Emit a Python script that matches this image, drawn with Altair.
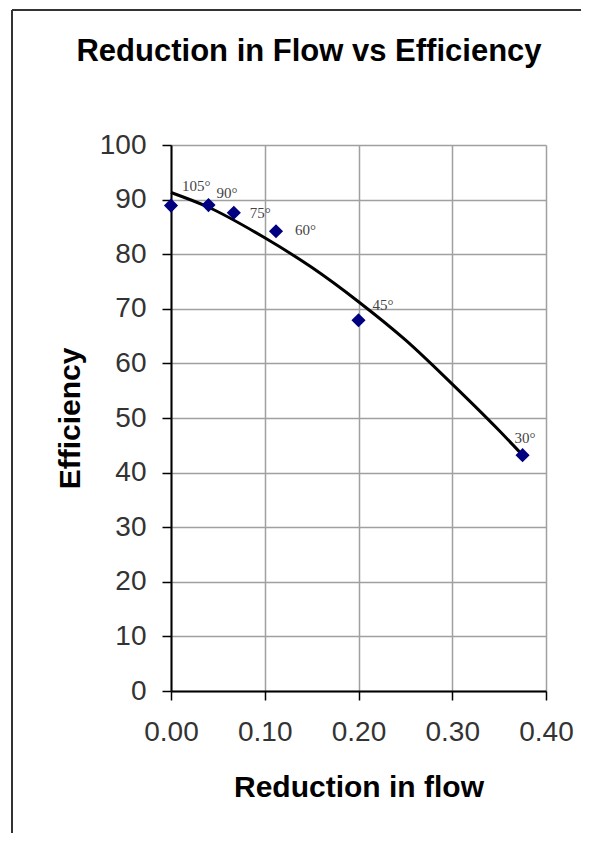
import altair as alt
import pandas as pd

# ---- data ----
flow = [0.0, 0.04, 0.067, 0.112, 0.2, 0.375]
efficiency = [88.9, 89.0, 87.6, 84.2, 67.9, 43.2]
angle = ["105°", "90°", "75°", "60°", "45°", "30°"]

trend_flow = [0.0, 0.04, 0.10, 0.15, 0.20, 0.25, 0.30, 0.35, 0.375]
trend_eff = [91.3, 88.6, 83.0, 77.6, 71.3, 64.3, 56.2, 47.7, 43.2]

x_ticks = [0.0, 0.1, 0.2, 0.3, 0.4]
y_ticks = list(range(0, 101, 10))

chart_title = ["Reduction in Flow vs Efficiency"]

# label placement styling (pixel offsets from each point)
LABEL_DX = [11, 8, 16, 19, 14, -8]
LABEL_DY = [-15, -7, 5, 4, -10, -12]

pts = pd.DataFrame({"flow": flow, "eff": efficiency, "angle": angle})
trend = pd.DataFrame({"flow": trend_flow, "eff": trend_eff})

W, H = 375, 546
SANS = "Liberation Sans"

xs = alt.Scale(domain=[0, 0.4], nice=False, zero=False)
ys = alt.Scale(domain=[0, 100], nice=False)

x_axis = alt.Axis(values=x_ticks, format=".2f", title="Reduction in flow",
                  titlePadding=26, labelPadding=18, labelFlush=False, labelOverlap=False)
y_axis = alt.Axis(values=y_ticks, title="Efficiency", titlePadding=14, labelPadding=16,
                  labelFlush=False, labelOverlap=False)

line = alt.Chart(trend).mark_line(color="black", strokeWidth=3, interpolate="monotone").encode(
    x=alt.X("flow:Q", scale=xs, axis=x_axis),
    y=alt.Y("eff:Q", scale=ys, axis=y_axis),
)

points = alt.Chart(pts).mark_point(shape="diamond", filled=True, color="#000080",
                                    size=200, opacity=1).encode(
    x=alt.X("flow:Q", scale=xs),
    y=alt.Y("eff:Q", scale=ys),
)

labels = []
for i, a in enumerate(angle):
    labels.append(
        alt.Chart(pts.iloc[[i]]).mark_text(
            font="Liberation Serif", fontSize=15, color="#444444",
            align="left", baseline="alphabetic", dx=LABEL_DX[i], dy=LABEL_DY[i]
        ).encode(x=alt.X("flow:Q", scale=xs), y=alt.Y("eff:Q", scale=ys), text="angle:N")
    )

title_df = pd.DataFrame({"t": chart_title})
title = alt.Chart(title_df).mark_text(
    font=SANS, fontSize=31, fontWeight="bold", color="black",
    align="center", baseline="alphabetic"
).encode(x=alt.value(138), y=alt.value(-84), text="t:N")

frame_df = pd.DataFrame({"k": [0]})
frame_left = alt.Chart(frame_df).mark_rule(color="#333333", strokeWidth=2).encode(
    x=alt.value(-159), y=alt.value(-135), y2=alt.value(700))
frame_top = alt.Chart(frame_df).mark_rule(color="#333333", strokeWidth=2).encode(
    x=alt.value(-159), x2=alt.value(420), y=alt.value(-135))

chart = alt.layer(line, points, *labels, title, frame_left, frame_top).properties(
    width=W, height=H,
    autosize=alt.AutoSizeParams(type="none"),
    padding={"left": 163, "top": 137, "right": 35, "bottom": 142},
).configure_view(strokeWidth=0).configure_axis(
    labelFont=SANS, labelFontSize=28, labelColor="#333333",
    titleFont=SANS, titleFontSize=30, titleFontWeight="bold", titleColor="black",
    domainColor="black", domainWidth=2, tickColor="black", tickWidth=1.5, tickSize=9,
    gridColor="#a0a0a0", gridWidth=1.5,
)

chart.save("out.html", embed_options={"renderer": "svg", "actions": False})
